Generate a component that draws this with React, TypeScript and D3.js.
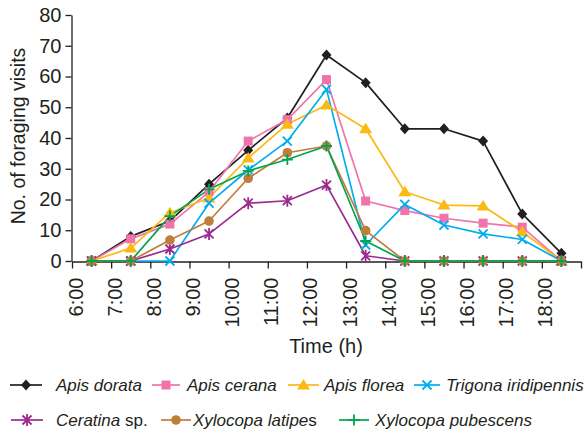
import React, { useEffect, useRef } from "react";
import * as d3 from "d3";

// hour labels on the x axis, data are taken at the half hours between them
const hourLabels = ["6:00", "7:00", "8:00", "9:00", "10:00", "11:00", "12:00", "13:00", "14:00", "15:00", "16:00", "17:00", "18:00"];
const slots = ["6:30", "7:30", "8:30", "9:30", "10:30", "11:30", "12:30", "13:30", "14:30", "15:30", "16:30", "17:30", "18:30"];
const yTicks = [0, 10, 20, 30, 40, 50, 60, 70, 80];

const apisDorata = [0, 8, 13, 25, 36, 46.5, 67, 58, 43, 43, 39, 15.3, 2.5];
const apisCerana = [0, 7.2, 12, 22.5, 39, 46, 59, 19.5, 16.4, 13.9, 12.3, 11, 0];
const apisFlorea = [0, 4.2, 15.7, 20.5, 33.5, 44.5, 50.7, 43, 22.5, 18.2, 17.9, 9.5, 0];
const trigona = [0, 0, 0, 18.8, 29.6, 39, 55.8, 5.2, 18.4, 11.7, 8.8, 7, 0];
const ceratina = [0, 0, 3.9, 8.8, 18.8, 19.6, 24.7, 1.7, 0, 0, 0, 0, 0];
const latipes = [0, 0, 6.8, 13, 26.9, 35.2, 37.4, 9.9, 0, 0, 0, 0, 0];
const pubescens = [0, 0, 14.6, 23.3, 29.3, 33, 37.4, 6.5, 0, 0, 0, 0, 0];

const series = [
  { name: [["Apis dorata", true]], values: apisDorata, color: "#231f20", marker: "diamond" },
  { name: [["Apis cerana", true]], values: apisCerana, color: "#f173ac", marker: "square" },
  { name: [["Apis florea", true]], values: apisFlorea, color: "#fdb913", marker: "triangle" },
  { name: [["Trigona iridipennis", true]], values: trigona, color: "#00aeef", marker: "x" },
  { name: [["Ceratina", true], [" sp.", false]], values: ceratina, color: "#9b2a8e", marker: "star" },
  { name: [["Xylocopa latipe", true], ["s", false]], values: latipes, color: "#c27c3c", marker: "circle" },
  { name: [["Xylocopa pubescens", true]], values: pubescens, color: "#00a54f", marker: "plus" },
];

// legend slots: line start, line end, text start, row baseline
const legendLayout = [
  [10, 42, 56, 391], [152, 180, 187, 391], [288, 319, 324, 391], [414, 440, 446, 391],
  [11, 43, 56, 426], [161, 191, 193, 426], [339, 369, 375, 426],
];

const W = 588, H = 433;
const FONT = "'Liberation Sans', Arial, Helvetica, sans-serif";
const INK = "#231f20";

function marker(g, type, color) {
  if (type === "diamond") {
    g.append("path").attr("d", "M0,-5.5L5,0L0,5.5L-5,0Z").attr("fill", color);
  } else if (type === "square") {
    g.append("rect").attr("x", -4.5).attr("y", -4.5).attr("width", 9).attr("height", 9).attr("fill", color);
  } else if (type === "triangle") {
    g.append("path").attr("d", "M0,-6L6.5,4.5L-6.5,4.5Z").attr("fill", color);
  } else if (type === "circle") {
    g.append("circle").attr("r", 4.8).attr("fill", color);
  } else {
    let d = "";
    if (type === "x") d = "M-4.5,-4.5L4.5,4.5M-4.5,4.5L4.5,-4.5";
    if (type === "star") d = "M-4.5,-4.5L4.5,4.5M-4.5,4.5L4.5,-4.5M0,-6L0,6";
    if (type === "plus") d = "M-5.5,0L5.5,0M0,-5.5L0,5.5";
    g.append("path").attr("d", d).attr("fill", "none").attr("stroke", color).attr("stroke-width", 1.8);
  }
}

export default function App() {
  const ref = useRef(null);

  useEffect(() => {
    const svg = d3.select(ref.current);
    svg.selectAll("*").remove();

    const x = d3.scaleLinear().domain([0, hourLabels.length]).range([72, 581]);
    const y = d3.scaleLinear().domain([0, 80]).range([261, 15]);

    // y axis
    const gy = svg.append("g")
      .attr("transform", "translate(71.5,0)")
      .call(d3.axisLeft(y).tickValues(yTicks).tickSize(6).tickSizeOuter(0).tickPadding(4));
    gy.selectAll("text").attr("font-size", 20).attr("font-family", FONT).attr("fill", INK);
    gy.selectAll("line,path").attr("stroke", INK).attr("stroke-width", 1.3);

    // x axis
    const gx = svg.append("g")
      .attr("transform", "translate(0,261.5)")
      .call(d3.axisBottom(x).tickValues(d3.range(hourLabels.length + 1)).tickSize(7).tickSizeOuter(0)
        .tickFormat(i => hourLabels[i] || ""));
    gx.selectAll("line,path").attr("stroke", INK).attr("stroke-width", 1.3);
    gx.selectAll("text")
      .attr("transform", "rotate(-90)")
      .attr("text-anchor", "end")
      .attr("x", -16)
      .attr("y", 0)
      .attr("dy", "0.5em")
      .attr("font-size", 20)
      .attr("font-family", FONT)
      .attr("fill", INK);

    svg.append("text")
      .attr("x", 326).attr("y", 353)
      .attr("text-anchor", "middle")
      .attr("font-size", 20).attr("font-family", FONT).attr("fill", INK)
      .text("Time (h)");

    svg.append("text")
      .attr("transform", "translate(25,136) rotate(-90)")
      .attr("text-anchor", "middle")
      .attr("font-size", 19.5).attr("font-family", FONT).attr("fill", INK)
      .text("No. of foraging visits");

    // series
    const line = d3.line().x((d, i) => x(i + 0.5)).y(d => y(d));
    series.forEach(s => {
      svg.append("path")
        .attr("d", line(s.values))
        .attr("fill", "none")
        .attr("stroke", s.color)
        .attr("stroke-width", 1.7)
        .attr("stroke-linejoin", "round");
    });
    series.forEach(s => {
      s.values.forEach((v, i) => {
        const g = svg.append("g").attr("transform", `translate(${x(i + 0.5)},${y(v)})`);
        marker(g, s.marker, s.color);
      });
    });

    // legend
    series.forEach((s, k) => {
      const [x0, x1, tx, by] = legendLayout[k];
      const ly = by - 6;
      svg.append("line")
        .attr("x1", x0).attr("x2", x1).attr("y1", ly).attr("y2", ly)
        .attr("stroke", s.color).attr("stroke-width", 1.7);
      marker(svg.append("g").attr("transform", `translate(${(x0 + x1) / 2},${ly})`), s.marker, s.color);
      const t = svg.append("text")
        .attr("x", tx).attr("y", by)
        .attr("font-size", 17).attr("font-family", FONT).attr("fill", INK);
      s.name.forEach(([part, italic]) => {
        t.append("tspan").attr("font-style", italic ? "italic" : "normal").text(part);
      });
    });
  }, []);

  return (
    <svg ref={ref} width={W} height={H} viewBox={`0 0 ${W} ${H}`}
      style={{ position: "absolute", left: 0, top: 0, background: "#fff" }} />
  );
}
